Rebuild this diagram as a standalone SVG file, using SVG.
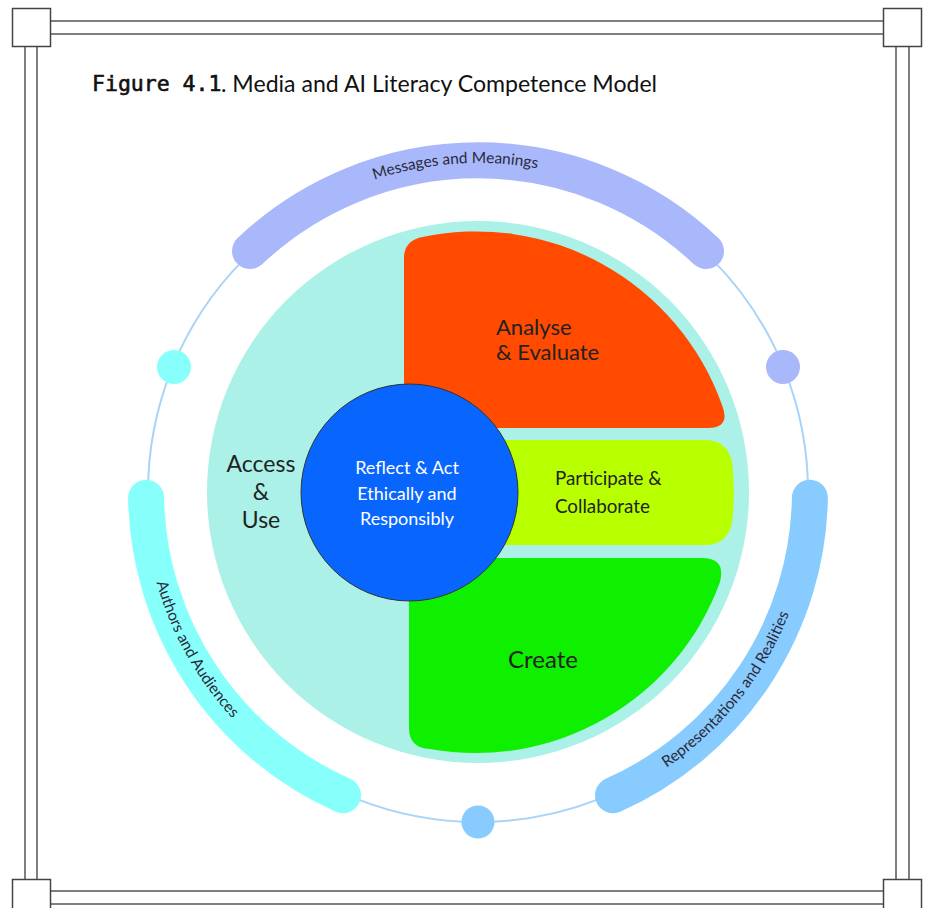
<svg xmlns="http://www.w3.org/2000/svg" width="930" height="908" viewBox="0 0 930 908">
  <style>
    .frame-line { stroke: #555; stroke-width: 1.5; fill: none; }
    .frame-box { fill: #fff; stroke: #444; stroke-width: 1.5; }
    .band { fill: none; stroke-width: 36; stroke-linecap: round; }
    .band-label { font-family: Lato, "Liberation Sans", sans-serif; font-size: 15.5px; fill: #2a2a3a; }
    .label { font-family: Lato, "Liberation Sans", sans-serif; fill: #222; }
    .core-label { font-family: Lato, "Liberation Sans", sans-serif; font-size: 18px; fill: #fff; text-anchor: middle; }
  </style>
  <defs>
    <path id="pathTop" d="M 182.3 347.8 A 329 329 0 0 1 750.8 308.1"/>
    <path id="pathLeft" d="M 191.1 321 A 334 334 0 0 0 473.3 826"/>
    <path id="pathRight" d="M 428.6 822.3 A 334 334 0 0 0 788.8 369.6"/>
  </defs>

  <rect width="930" height="908" fill="#fff"/>

  <!-- page frame: double rules with corner boxes -->
  <g id="frame">
    <line class="frame-line" x1="50" y1="21" x2="884" y2="21"/>
    <line class="frame-line" x1="50" y1="34" x2="884" y2="34"/>
    <line class="frame-line" x1="50" y1="891" x2="884" y2="891"/>
    <line class="frame-line" x1="50" y1="904" x2="884" y2="904"/>
    <line class="frame-line" x1="25" y1="46" x2="25" y2="879"/>
    <line class="frame-line" x1="37" y1="46" x2="37" y2="879"/>
    <line class="frame-line" x1="896" y1="46" x2="896" y2="879"/>
    <line class="frame-line" x1="909" y1="46" x2="909" y2="879"/>
    <rect class="frame-box" x="12.5" y="8.5" width="38" height="38"/>
    <rect class="frame-box" x="883.5" y="8.5" width="38" height="38"/>
    <rect class="frame-box" x="12.5" y="879.5" width="38" height="38"/>
    <rect class="frame-box" x="883.5" y="879.5" width="38" height="38"/>
  </g>

  <!-- caption -->
  <g id="title">
    <text x="92" y="91" font-family="'DejaVu Sans Mono', 'Liberation Mono', monospace" font-size="21.5" fill="#111" stroke="#111" stroke-width="0.6">Figure 4.1</text>
    <text x="221" y="92" font-family="Lato, 'Liberation Sans', sans-serif" font-size="23.1" fill="#111">. Media and AI Literacy Competence Model</text>
  </g>

  <!-- thin outer ring -->
  <g id="connectors">
    <circle cx="478" cy="492" r="330" fill="none" stroke="#a9d4f7" stroke-width="2"/>
  </g>

  <!-- outer bands -->
  <g id="band-messages">
    <path class="band" stroke="#a8b8fa" d="M 250 251 A 332 332 0 0 1 706 251"/>
    <text class="band-label" font-size="17.5"><textPath href="#pathTop" startOffset="50%" text-anchor="middle">Messages and Meanings</textPath></text>
  </g>
  <g id="band-authors">
    <path class="band" stroke="#87fffb" d="M 146.1 497.8 A 332 332 0 0 0 343 795.3"/>
    <text class="band-label"><textPath href="#pathLeft" startOffset="50%" text-anchor="middle">Authors and Audiences</textPath></text>
  </g>
  <g id="band-representations">
    <path class="band" stroke="#87cbff" d="M 809.9 497.8 A 332 332 0 0 1 613 795.3"/>
    <text class="band-label" font-size="15"><textPath href="#pathRight" startOffset="50%" text-anchor="middle">Representations and Realities</textPath></text>
  </g>

  <!-- ring dots -->
  <g id="dot-left"><circle cx="174" cy="367" r="17" fill="#87fffb"/></g>
  <g id="dot-right"><circle cx="783" cy="367" r="17" fill="#a8b8fa"/></g>
  <g id="dot-bottom"><circle cx="478" cy="822" r="16.5" fill="#87cbff"/></g>

  <!-- access & use disc -->
  <g id="access-use">
    <circle cx="478" cy="492" r="271" fill="#abf1e8"/>
    <text class="label" font-size="23" text-anchor="middle"><tspan x="261" y="472">Access</tspan><tspan x="261" y="500">&amp;</tspan><tspan x="261" y="528">Use</tspan></text>
  </g>

  <g id="analyse-evaluate">
    <path fill="#ff4a00" d="M 404 428 L 404 258 Q 404 242 420 237.5 A 261 261 0 0 1 722 405 Q 731 428 708 428 Z"/>
    <text class="label" font-size="22"><tspan x="496" y="335">Analyse</tspan><tspan x="496" y="360">&amp; Evaluate</tspan></text>
  </g>

  <g id="participate-collaborate">
    <path fill="#b8ff00" d="M 480 440 L 705 440 Q 727 440 732 462 A 259 259 0 0 1 732 523 Q 727 545 705 545 L 480 545 Z"/>
    <text class="label" font-size="18.8"><tspan x="555" y="485">Participate &amp;</tspan><tspan x="555" y="513">Collaborate</tspan></text>
  </g>

  <g id="create">
    <path fill="#0ef000" d="M 409 558 L 702 558 Q 726 558 720 582 A 260 260 0 0 1 430 749 Q 409 748 409 728 Z"/>
    <text class="label" font-size="24" x="543" y="668" text-anchor="middle">Create</text>
  </g>

  <!-- core -->
  <g id="reflect-act">
    <circle cx="409.5" cy="492.5" r="108.5" fill="#0866ff" stroke="#333" stroke-width="1"/>
    <text class="core-label"><tspan x="407" y="474">Reflect &amp; Act</tspan><tspan x="407" y="500">Ethically and</tspan><tspan x="407" y="525">Responsibly</tspan></text>
  </g>
</svg>
